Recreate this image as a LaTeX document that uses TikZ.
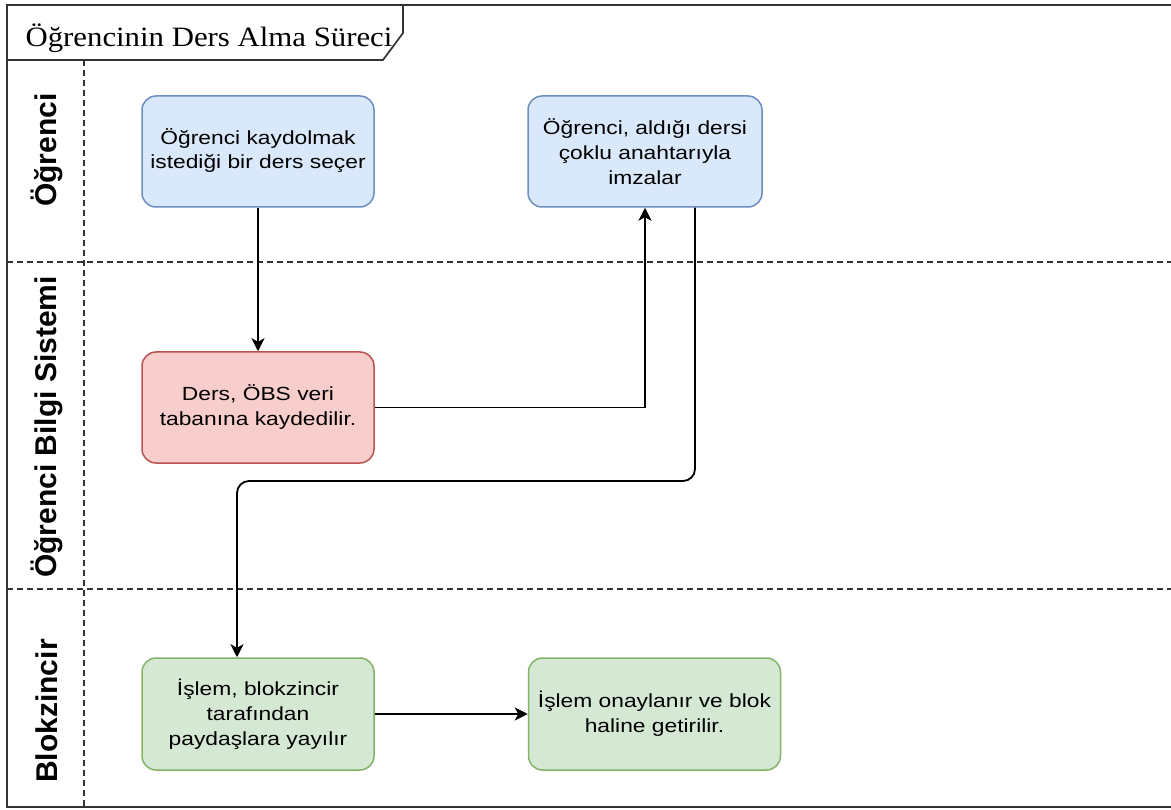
\documentclass[tikz,border=0pt]{standalone}
\usepackage{fontspec}
\setmainfont{Liberation Serif}
\newfontfamily\boxfont[FakeStretch=1.2]{Liberation Sans}
\newfontfamily\lanefont{Liberation Sans}
\newfontfamily\titlefont[FakeStretch=1.1]{Liberation Serif}
\usetikzlibrary{arrows.meta}

\definecolor{blueFill}{HTML}{DAE8FC}\definecolor{blueLine}{HTML}{6C8EBF}
\definecolor{redFill}{HTML}{F8CECC}\definecolor{redLine}{HTML}{B85450}
\definecolor{greenFill}{HTML}{D5E8D4}\definecolor{greenLine}{HTML}{82B366}
\definecolor{frameLine}{HTML}{333333}

\tikzset{
  taskbox/.style={draw, line width=1.5pt, rounded corners=14pt, inner sep=0pt,
    align=center, text=black,
    font=\boxfont\fontsize{19}{25}\selectfont},
  bluebox/.style={taskbox, fill=blueFill, draw=blueLine},
  redbox/.style={taskbox, fill=redFill, draw=redLine},
  greenbox/.style={taskbox, fill=greenFill, draw=greenLine},
  lanelabel/.style={rotate=90, font=\lanefont\bfseries\fontsize{30}{34}\selectfont, inner sep=0pt},
  lanesep/.style={draw=frameLine, line width=1.5pt, dash pattern=on 6pt off 4pt},
  frame/.style={draw=frameLine, line width=1.7pt},
  flow/.style={draw=black, line width=1.8pt, -{Stealth[length=13pt,width=13pt,inset=3.5pt]}},
}

\begin{document}
\begin{tikzpicture}[x=1pt, y=-1pt]
\useasboundingbox (0,0) rectangle (1171,810);

% pool frame and title tab
\draw[frame] (1171,5) -- (7,5) -- (7,807) -- (1171,807);
\draw[frame] (7,60) -- (383,60) -- (403,33) -- (403,5);
\node[anchor=base west, font=\titlefont\fontsize{28}{32}\selectfont] (title) at (22,47) {Öğrencinin Ders Alma Süreci};

% lane separators
\draw[lanesep] (84,60) -- (84,807);
\draw[lanesep] (7,262) -- (1171,262);
\draw[lanesep] (7,589) -- (1171,589);

% lane labels
\node[lanelabel] (laneA) at (47,150) {Öğrenci};
\node[lanelabel] (laneB) at (47,427) {Öğrenci Bilgi Sistemi};
\node[lanelabel] (laneC) at (47,711) {Blokzincir};

% process steps
\node[bluebox, minimum width=232pt, minimum height=111pt] (select) at (258,151.5)
  {\raisebox{-3pt}{\begin{tabular}{@{}c@{}}Öğrenci kaydolmak\\[-1pt]istediği bir ders seçer\end{tabular}}};
\node[bluebox, minimum width=234pt, minimum height=111pt] (sign) at (645,151.5)
  {Öğrenci, aldığı dersi\\çoklu anahtarıyla\\imzalar};
\node[redbox, minimum width=232pt, minimum height=111pt] (store) at (258,407.5)
  {Ders, ÖBS veri\\tabanına kaydedilir.};
\node[greenbox, minimum width=232pt, minimum height=112pt] (spread) at (258,714)
  {İşlem, blokzincir\\tarafından\\paydaşlara yayılır};
\node[greenbox, minimum width=252pt, minimum height=112pt] (block) at (654.5,714)
  {İşlem onaylanır ve blok\\haline getirilir.};

% bends of the long connector
\coordinate (bendR) at (695,481);
\coordinate (bendL) at (237,481);

% connectors
\draw[flow] (select) -- (store);
\draw[flow] (store.east) -| (sign.south);
\draw[flow, rounded corners=12pt] (sign.south -| bendR) -- (bendR) -- (bendL) -- (spread.north -| bendL);
\draw[flow] (spread) -- (block);
\end{tikzpicture}
\end{document}
